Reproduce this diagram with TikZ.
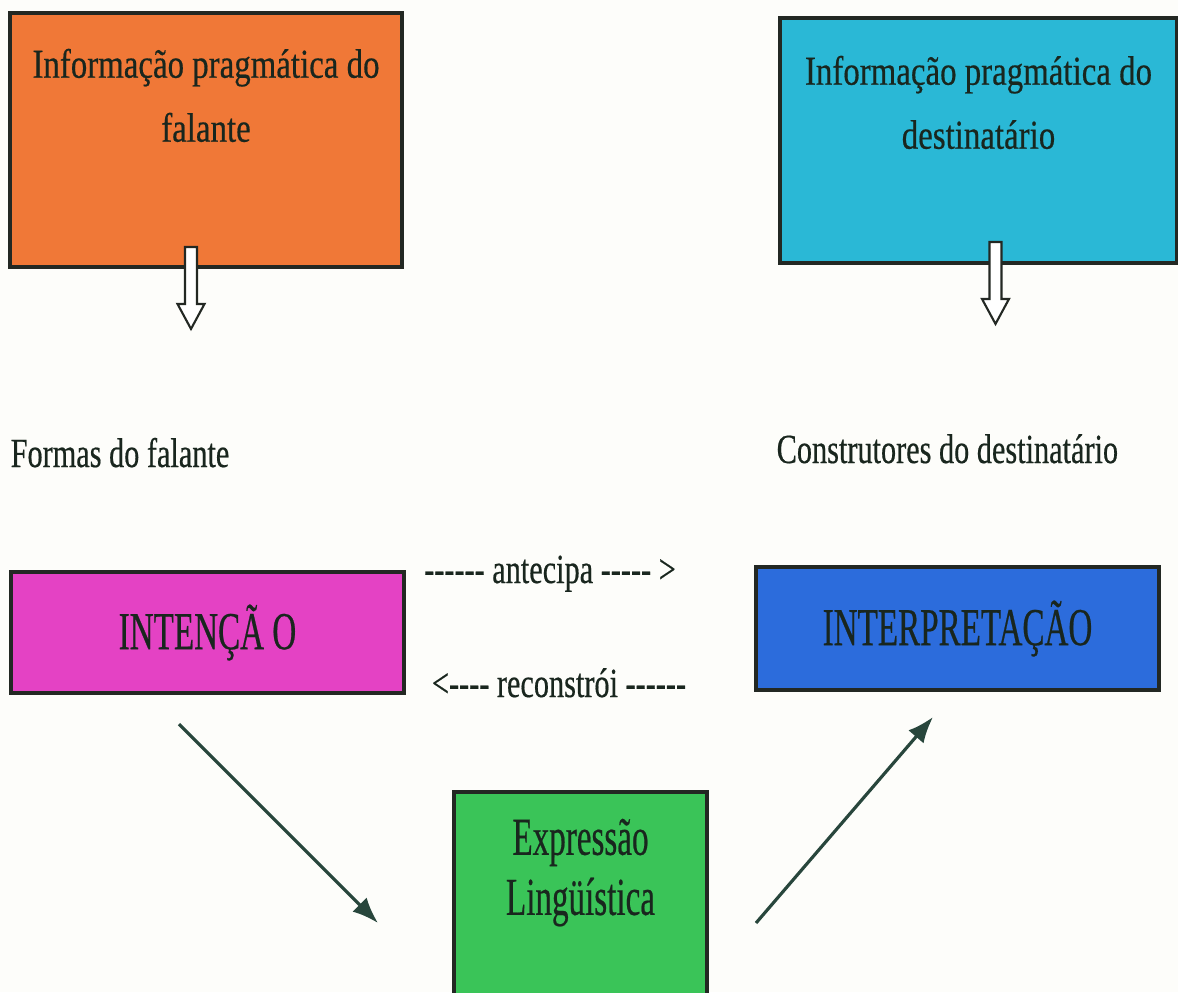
\documentclass[tikz,border=0pt]{standalone}
\usepackage{fontspec}
\setmainfont{Liberation Serif}
\newfontfamily\boxtxt[FakeStretch=0.80,FakeBold=0.4]{Liberation Serif}
\newfontfamily\lbltxt[FakeStretch=0.73,FakeBold=0.4,Ligatures=TeXOff]{Liberation Serif}
\newfontfamily\bigtxt[FakeStretch=0.62,FakeBold=0.4]{Liberation Serif}
\usepackage{tikz}
\usetikzlibrary{positioning}
\usetikzlibrary{arrows.meta}
\definecolor{orangebox}{RGB}{240,120,55}
\definecolor{cyanbox}{RGB}{42,184,214}
\definecolor{magentabox}{RGB}{228,66,196}
\definecolor{bluebox}{RGB}{44,108,220}
\definecolor{greenbox}{RGB}{58,196,88}
\definecolor{ink}{RGB}{25,38,30}
\definecolor{boxline}{RGB}{35,40,35}
\definecolor{arrowline}{RGB}{40,70,60}
\definecolor{paper}{RGB}{253,253,250}

\begin{document}
\begin{tikzpicture}[>={Latex[length=2.6mm,width=2mm]},
box/.style={rectangle,draw=boxline,line width=1.1pt,inner sep=0pt},
boxtext/.style={font=\boxtxt\fontsize{11.7}{18.2}\selectfont,align=center,inner sep=0pt,text=ink},
bigtext/.style={font=\bigtxt\fontsize{15.2}{17.1}\selectfont,align=center,inner sep=0pt,text=ink},
lbl/.style={font=\lbltxt\fontsize{11.8}{14}\selectfont,inner sep=0pt,text=ink},
hollowdown/.pic={\draw[fill=white,draw=boxline,line width=0.6pt] (-0.06,0) -- (0.06,0) -- (0.06,-0.57) -- (0.135,-0.57) -- (0,-0.82) -- (-0.135,-0.57) -- (-0.06,-0.57) -- cycle;}]
\useasboundingbox[fill=paper] (0,0) rectangle (11.78,-9.92);
\clip (0,0) rectangle (11.78,-9.92);

% pragmatic information boxes
\node[box,fill=orangebox,minimum width=3.92cm,minimum height=2.54cm] (infF) at (2.06,-1.40) {};
\node[boxtext,below=0.37cm of infF.north] (infFtxt) {Informação pragmática do\\falante};
\node[box,fill=cyanbox,minimum width=3.97cm,minimum height=2.45cm] (infD) at (9.785,-1.405) {};
\node[boxtext,below=0.39cm of infD.north] (infDtxt) {Informação pragmática do\\destinatário};

% hollow arrows
\path (infF.south) ++(-0.15,0.22) pic {hollowdown};
\path (infD.south) ++(0.17,0.23) pic {hollowdown};

% labels
\node[lbl,anchor=base west] (formas) at (0.10,-4.67) {Formas do falante};
\node[lbl,anchor=base west] (constr) at (7.76,-4.63) {Construtores do destinatário};

% intention / interpretation
\node[box,fill=magentabox,minimum width=3.93cm,minimum height=1.21cm,bigtext] (intencao) at (2.075,-6.325) {INTENÇÃ O};
\node[box,fill=bluebox,minimum width=4.03cm,minimum height=1.23cm,bigtext] (interp) at (9.575,-6.285) {INTERPRETAÇÃO};
\node[lbl,anchor=base] (antecipa) at (5.50,-5.83) {------ antecipa ----- >};
\node[lbl,anchor=base] (reconstroi) at (5.59,-6.97) {<---- reconstrói ------};

% linguistic expression
\node[box,fill=greenbox,minimum width=2.53cm,minimum height=2.18cm] (expr) at (5.805,-9.01) {};
\node[bigtext,below=0.28cm of expr.north] (exprtxt) {Expressão\\Lingüística};

% arrows
\coordinate (a1s) at (1.79,-7.24);
\coordinate (a1e) at (3.78,-9.23);
\coordinate (a2s) at (7.56,-9.23);
\coordinate (a2e) at (9.33,-7.17);
\draw[->,draw=arrowline,fill=arrowline,line width=0.9pt] (a1s) -- (a1e);
\draw[->,draw=arrowline,fill=arrowline,line width=0.9pt] (a2s) -- (a2e);
\end{tikzpicture}
\end{document}
